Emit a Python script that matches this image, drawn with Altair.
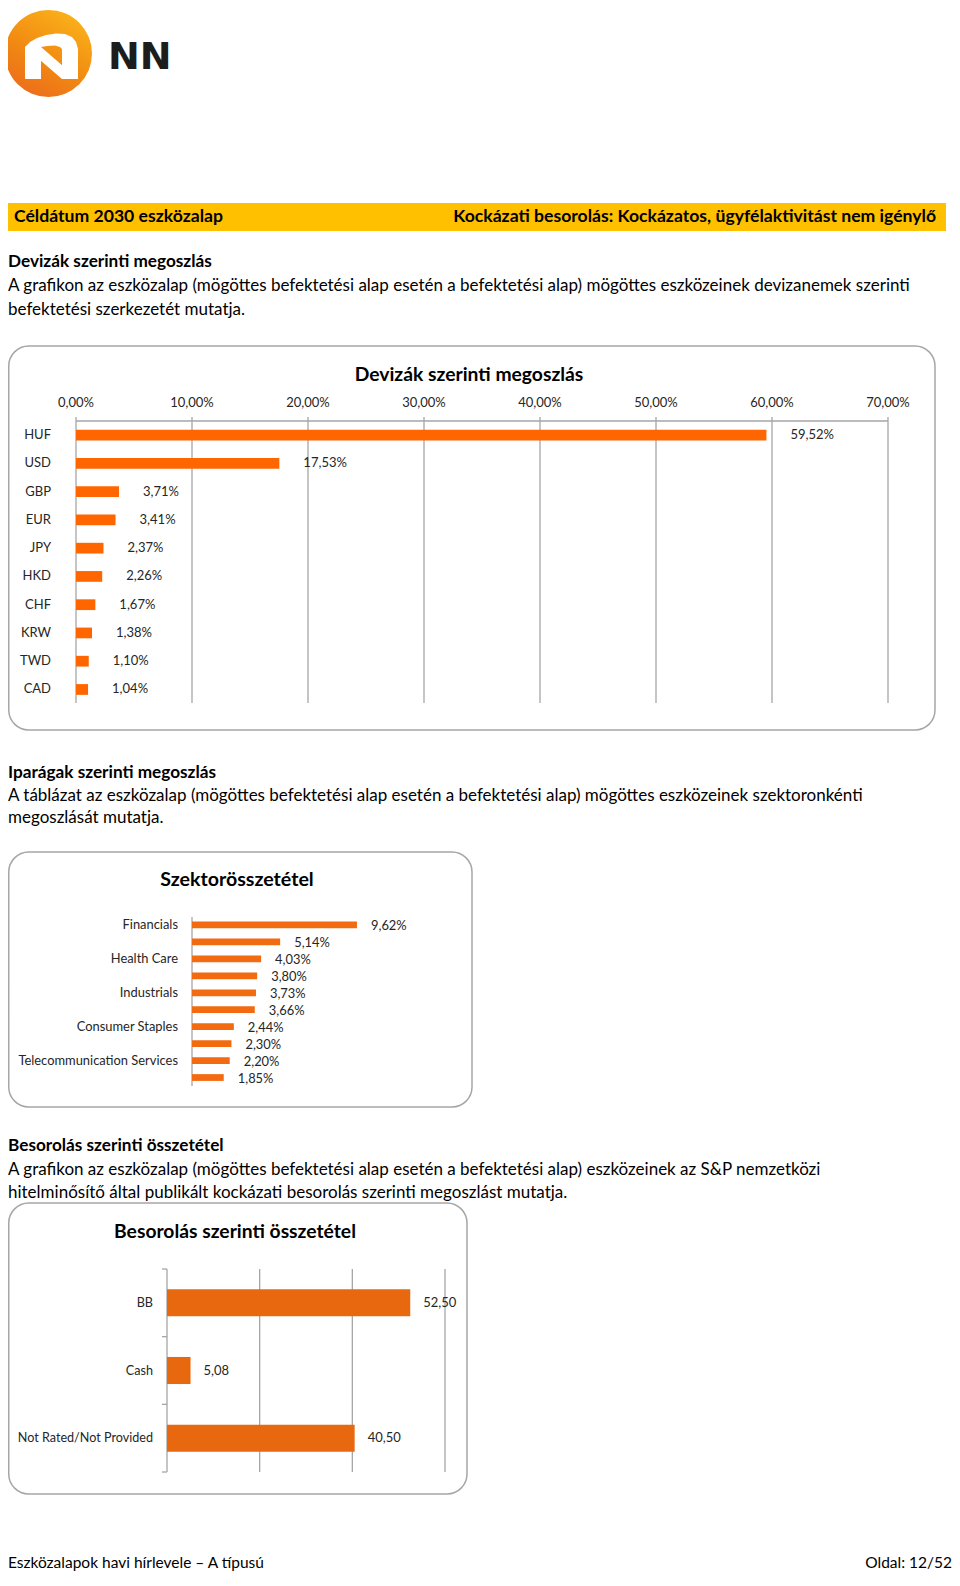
import altair as alt
import pandas as pd

# ---------------- data ----------------
currencies = ["HUF", "USD", "GBP", "EUR", "JPY", "HKD", "CHF", "KRW", "TWD", "CAD"]
currency_share = [59.52, 17.53, 3.71, 3.41, 2.37, 2.26, 1.67, 1.38, 1.10, 1.04]
axis1_ticks = [0, 10, 20, 30, 40, 50, 60, 70]
axis1_labels = ["0,00%", "10,00%", "20,00%", "30,00%", "40,00%", "50,00%", "60,00%", "70,00%"]

sectors = ["Financials", "Consumer Discretionary", "Health Care", "Information Technology",
           "Industrials", "Energy", "Consumer Staples", "Materials",
           "Telecommunication Services", "Utilities"]
sector_share = [9.62, 5.14, 4.03, 3.80, 3.73, 3.66, 2.44, 2.30, 2.20, 1.85]
sector_labels_shown = ["Financials", "Health Care", "Industrials", "Consumer Staples",
                       "Telecommunication Services"]

ratings = ["BB", "Cash", "Not Rated/Not Provided"]
rating_share = [52.50, 5.08, 40.50]
axis3_ticks = [0, 20, 40, 60]

# ---------------- helpers ----------------
FONT = "Lato"
W, H = 944, 1566


def px(x):
    return x - 8


def py(y):
    return y - 8


one = pd.DataFrame({"k": [0]})


def comma(v, pct=True):
    s = f"{v:.2f}".replace(".", ",")
    return s + "%" if pct else s


def txt(s, x, y, size, bold=False, align="left", color="#000000", font=FONT, baseline="middle"):
    return alt.Chart(one).mark_text(
        align=align, baseline=baseline, fontSize=size,
        fontWeight="bold" if bold else "normal", font=font, color=color
    ).encode(x=alt.value(x), y=alt.value(y), text=alt.value(s))


def box(x1, y1, x2, y2, r=18):
    return alt.Chart(one).mark_rect(
        cornerRadius=r, fill="white", stroke="#A6A6A6", strokeWidth=1.5
    ).encode(x=alt.value(x1), x2=alt.value(x2), y=alt.value(y1), y2=alt.value(y2))


layers = []

# ---------------- logo ----------------
cx, cy, r = 48.5, 53.5, 43.5


def poly(points):
    return "M" + " L".join(f"{(x - cx) / r:.3f},{(y - cy) / r:.3f}" for x, y in points) + " Z"


n_shape = " ".join([
    poly([(25, 47), (41, 47), (41, 79), (25, 79)]),
    poly([(25, 47), (41, 47), (78, 79), (62, 79)]),
    poly([(62, 49), (78, 49), (78, 79), (62, 79)]),
    poly([(25, 47), (30, 42), (37, 38), (46, 35), (56, 33.5), (65, 34), (72, 37), (76, 42),
          (78, 49), (62, 49), (60, 47), (55, 45.5), (47, 46), (41, 47)]),
])

logo_grad = alt.Gradient(
    gradient="linear",
    stops=[alt.GradientStop(color="#FBB21A", offset=0),
           alt.GradientStop(color="#F18A12", offset=0.55),
           alt.GradientStop(color="#EC6A1C", offset=1)],
    x1=0.75, y1=0, x2=0.2, y2=1,
)
layers.append(alt.Chart(one).mark_point(shape="circle", filled=True, size=(2 * r) ** 2,
                                        fill=logo_grad, strokeWidth=0, opacity=1)
              .encode(x=alt.value(px(cx)), y=alt.value(py(cy))))
layers.append(alt.Chart(one).mark_point(shape=n_shape, filled=True, size=(2 * r) ** 2,
                                        fill="white", strokeWidth=0, opacity=1)
              .encode(x=alt.value(px(cx)), y=alt.value(py(cy))))
layers.append(txt("NN", px(108), py(69), 38, bold=True, font="DejaVu Sans",
                  color="#1D1D1B", baseline="alphabetic"))

# ---------------- header bar ----------------
layers.append(alt.Chart(one).mark_rect(fill="#FFC000").encode(
    x=alt.value(0), x2=alt.value(px(946)), y=alt.value(py(203)), y2=alt.value(py(231))))
layers.append(txt("Céldátum 2030 eszközalap", px(14), py(217), 17.6, bold=True))
layers.append(txt("Kockázati besorolás: Kockázatos, ügyfélaktivitást nem igénylő", px(936), py(217),
                  17.6, bold=True, align="right"))

# ---------------- section 1 text ----------------
PARA = 17.0
HEAD = 17.2
layers.append(txt("Devizák szerinti megoszlás", 0, py(262), HEAD, bold=True))
layers.append(txt("A grafikon az eszközalap (mögöttes befektetési alap esetén a befektetési alap) "
                  "mögöttes eszközeinek devizanemek szerinti", 0, py(286), PARA))
layers.append(txt("befektetési szerkezetét mutatja.", 0, py(309.5), PARA))

# ---------------- chart 1 ----------------
layers.append(box(0.75, py(346), px(935), py(730), 20))
layers.append(txt("Devizák szerinti megoszlás", px(469), py(375), 19.3, bold=True, align="center"))

cur_df = pd.DataFrame({"currency": currencies, "share": currency_share,
                       "label": [comma(v) for v in currency_share]})
tick1_df = pd.DataFrame({"t": axis1_ticks, "lab": axis1_labels})
span1_df = pd.DataFrame({"lo": [axis1_ticks[0]], "hi": [axis1_ticks[-1]]})

x1 = alt.Scale(domain=[0, 70], range=[px(76), px(888)], nice=False, zero=True)
y1 = alt.Scale(domain=currencies, range=[py(421), py(703.6)], paddingInner=0.62, paddingOuter=0.31)

GRID = "#A6A6A6"
layers.append(alt.Chart(tick1_df).mark_rule(color=GRID, strokeWidth=1.3).encode(
    x=alt.X("t:Q", scale=x1, axis=None), y=alt.value(py(417)), y2=alt.value(py(703))))
layers.append(alt.Chart(span1_df).mark_rule(color=GRID, strokeWidth=1.3).encode(
    x=alt.X("lo:Q", scale=x1, axis=None), x2="hi:Q", y=alt.value(py(421))))
layers.append(alt.Chart(tick1_df).mark_text(fontSize=13, font=FONT, color="#262626",
                                            align="center", baseline="middle").encode(
    x=alt.X("t:Q", scale=x1, axis=None), y=alt.value(py(403)), text="lab:N"))
layers.append(alt.Chart(cur_df).mark_bar(color="#FF6600").encode(
    x=alt.X("share:Q", scale=x1, axis=None), y=alt.Y("currency:N", scale=y1, axis=None)))
layers.append(alt.Chart(cur_df).mark_text(fontSize=13, font=FONT, color="#262626",
                                          align="left", baseline="middle", dx=24).encode(
    x=alt.X("share:Q", scale=x1, axis=None), y=alt.Y("currency:N", scale=y1, axis=None),
    text="label:N"))
layers.append(alt.Chart(cur_df).mark_text(fontSize=13, font=FONT, color="#262626",
                                          align="right", baseline="middle").encode(
    x=alt.value(px(51)), y=alt.Y("currency:N", scale=y1, axis=None), text="currency:N"))

# ---------------- section 2 text ----------------
layers.append(txt("Iparágak szerinti megoszlás", 0, py(773), HEAD, bold=True))
layers.append(txt("A táblázat az eszközalap (mögöttes befektetési alap esetén a befektetési alap) "
                  "mögöttes eszközeinek szektoronkénti", 0, py(795.5), PARA))
layers.append(txt("megoszlását mutatja.", 0, py(817.5), PARA))

# ---------------- chart 2 ----------------
layers.append(box(0.75, py(852), px(472), py(1107), 20))
layers.append(txt("Szektorösszetétel", px(237), py(880), 19.6, bold=True, align="center"))

sec_df = pd.DataFrame({"sector": sectors, "share": sector_share,
                       "label": [comma(v) for v in sector_share]})
zero2_df = pd.DataFrame({"z": [0]})
x2s = alt.Scale(domain=[0, 10], range=[px(192), px(192 + 171.5)], nice=False, zero=True)
y2s = alt.Scale(domain=sectors, range=[py(916.5), py(1086)], paddingInner=0.6, paddingOuter=0.3)

layers.append(alt.Chart(zero2_df).mark_rule(color=GRID, strokeWidth=1.3).encode(
    x=alt.X("z:Q", scale=x2s, axis=None), y=alt.value(py(917)), y2=alt.value(py(1086))))
layers.append(alt.Chart(sec_df).mark_bar(color="#F26B10").encode(
    x=alt.X("share:Q", scale=x2s, axis=None), y=alt.Y("sector:N", scale=y2s, axis=None)))
layers.append(alt.Chart(sec_df).mark_text(fontSize=12.9, font=FONT, color="#262626",
                                          align="left", baseline="middle", dx=14, dy=1).encode(
    x=alt.X("share:Q", scale=x2s, axis=None), y=alt.Y("sector:N", scale=y2s, axis=None),
    text="label:N"))
layers.append(alt.Chart(sec_df).transform_filter(
    alt.FieldOneOfPredicate(field="sector", oneOf=sector_labels_shown)
).mark_text(fontSize=12.9, font=FONT, color="#262626", align="right", baseline="middle").encode(
    x=alt.value(px(178)), y=alt.Y("sector:N", scale=y2s, axis=None), text="sector:N"))

# ---------------- section 3 text ----------------
layers.append(txt("Besorolás szerinti összetétel", 0, py(1146), HEAD, bold=True))
layers.append(txt("A grafikon az eszközalap (mögöttes befektetési alap esetén a befektetési alap) "
                  "eszközeinek az S&P nemzetközi", 0, py(1169.5), PARA))
layers.append(txt("hitelminősítő által publikált kockázati besorolás szerinti megoszlást mutatja.",
                  0, py(1192.5), PARA))

# ---------------- chart 3 ----------------
layers.append(box(0.75, py(1203), px(467), py(1494), 20))
layers.append(txt("Besorolás szerinti összetétel", px(235), py(1232), 19.3, bold=True, align="center"))

rat_df = pd.DataFrame({"rating": ratings, "share": rating_share,
                       "label": [comma(v, pct=False) for v in rating_share]})
tick3_df = pd.DataFrame({"t": axis3_ticks})
x3s = alt.Scale(domain=[0, 60], range=[px(167), px(445)], nice=False, zero=True)
y3s = alt.Scale(domain=ratings, range=[py(1269), py(1472)], paddingInner=0.6, paddingOuter=0.3)
y3edge = alt.Scale(domain=ratings, range=[py(1269), py(1472)], paddingInner=0, paddingOuter=0)

layers.append(alt.Chart(tick3_df).mark_rule(color=GRID, strokeWidth=1.3).encode(
    x=alt.X("t:Q", scale=x3s, axis=None), y=alt.value(py(1269)), y2=alt.value(py(1472))))
layers.append(alt.Chart(rat_df).mark_rule(color=GRID, strokeWidth=1.3).encode(
    x=alt.value(px(162)), x2=alt.value(px(167)),
    y=alt.Y("rating:N", scale=y3edge, axis=None, bandPosition=0)))
layers.append(alt.Chart(rat_df).transform_filter(
    alt.FieldEqualPredicate(field="rating", equal=ratings[-1])
).mark_rule(color=GRID, strokeWidth=1.3).encode(
    x=alt.value(px(162)), x2=alt.value(px(167)),
    y=alt.Y("rating:N", scale=y3edge, axis=None, bandPosition=1)))
layers.append(alt.Chart(rat_df).mark_bar(color="#E8680F").encode(
    x=alt.X("share:Q", scale=x3s, axis=None), y=alt.Y("rating:N", scale=y3s, axis=None)))
layers.append(alt.Chart(rat_df).mark_text(fontSize=13, font=FONT, color="#262626",
                                          align="left", baseline="middle", dx=13).encode(
    x=alt.X("share:Q", scale=x3s, axis=None), y=alt.Y("rating:N", scale=y3s, axis=None),
    text="label:N"))
layers.append(alt.Chart(rat_df).mark_text(fontSize=12.6, font=FONT, color="#262626",
                                          align="right", baseline="middle").encode(
    x=alt.value(px(153)), y=alt.Y("rating:N", scale=y3s, axis=None), text="rating:N"))

# ---------------- footer ----------------
layers.append(txt("Eszközalapok havi hírlevele – A típusú", 0, H - 11, 15.5))
layers.append(txt("Oldal: 12/52", W, H - 11, 15.5, align="right"))

chart = alt.layer(*layers).resolve_scale(x="independent", y="independent").properties(
    width=W, height=H, autosize=alt.AutoSizeParams(type="none"), padding=0,
).configure_view(stroke=None)

chart.save("out.html", embed_options={"renderer": "svg", "actions": False})
